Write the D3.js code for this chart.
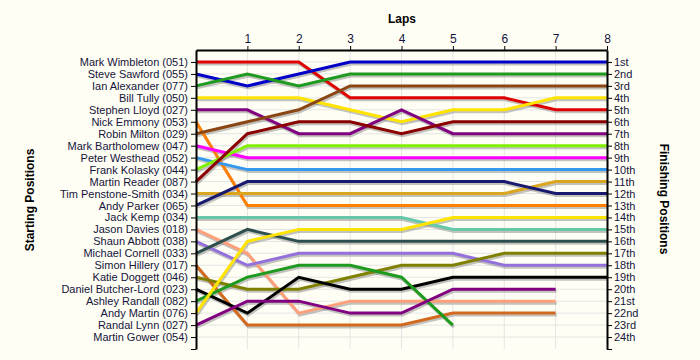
<!DOCTYPE html>
<html>
<head>
<meta charset="utf-8">
<script src="https://cdn.jsdelivr.net/npm/d3@7"></script>
<style>
  body { margin: 0; background: #fffef4; }
  svg { display: block; font-family: "Liberation Sans", Arial, sans-serif; }
  .tick text { fill: #14143c; font-size: 11px; }
  .top .tick text { font-size: 12px; }
  .tick line { stroke: #000; }
  .domain { stroke: #000; stroke-width: 2px; }
</style>
</head>
<body>
<script>
// starting grid order (position 1..24)
const drivers = [
  "Mark Wimbleton (051)", "Steve Sawford (055)", "Ian Alexander (077)", "Bill Tully (050)",
  "Stephen Lloyd (027)", "Nick Emmony (053)", "Robin Milton (029)", "Mark Bartholomew (047)",
  "Peter Westhead (052)", "Frank Kolasky (044)", "Martin Reader (087)", "Tim Penstone-Smith (034)",
  "Andy Parker (065)", "Jack Kemp (034)", "Jason Davies (018)", "Shaun Abbott (038)",
  "Michael Cornell (033)", "Simon Hillery (017)", "Katie Doggett (046)", "Daniel Butcher-Lord (023)",
  "Ashley Randall (082)", "Andy Martin (076)", "Randal Lynn (027)", "Martin Gower (054)"
];

const colours = [
  "#e00000", "#0000c8", "#1e9a1e", "#ffe400", "#800080", "#ff7f00", "#8b4513", "#ff00ff",
  "#3399ee", "#80f000", "#8b0000", "#daa520", "#191970", "#66c8a8", "#ffa07a", "#9370db",
  "#2f4f4f", "#d2691e", "#808000", "#000000", "#1e9a1e", "#ffe400", "#800080", "#999999"
];

// position at the end of each lap (index 0 = start)
const positions = [
  [1, 1, 1, 4, 4, 4, 4, 5, 5],
  [2, 3, 2, 1, 1, 1, 1, 1, 1],
  [3, 2, 3, 2, 2, 2, 2, 2, 2],
  [4, 4, 4, 5, 6, 5, 5, 4, 4],
  [5, 5, 7, 7, 5, 7, 7, 7, 7],
  [6, 13, 13, 13, 13, 13, 13, 13, 13],
  [7, 6, 5, 3, 3, 3, 3, 3, 3],
  [8, 9, 9, 9, 9, 9, 9, 9, 9],
  [9, 10, 10, 10, 10, 10, 10, 10, 10],
  [10, 8, 8, 8, 8, 8, 8, 8, 8],
  [11, 7, 6, 6, 7, 6, 6, 6, 6],
  [12, 12, 12, 12, 12, 12, 12, 11, 11],
  [13, 11, 11, 11, 11, 11, 11, 12, 12],
  [14, 14, 14, 14, 14, 15, 15, 15, 15],
  [15, 17, 22, 21, 21, 21, 21, 21],
  [16, 18, 17, 17, 17, 17, 18, 18, 18],
  [17, 15, 16, 16, 16, 16, 16, 16, 16],
  [18, 23, 23, 23, 23, 22, 22, 22],
  [19, 20, 20, 19, 18, 18, 17, 17, 17],
  [20, 22, 19, 20, 20, 19, 19, 19, 19],
  [21, 19, 18, 18, 19, 23],
  [22, 16, 15, 15, 15, 14, 14, 14, 14],
  [23, 21, 21, 22, 22, 20, 20, 20],
  []
];

const lapTicks = [1, 2, 3, 4, 5, 6, 7, 8];
const finishLabels = ["1st", "2nd", "3rd", "4th", "5th", "6th", "7th", "8th", "9th", "10th",
  "11th", "12th", "13th", "14th", "15th", "16th", "17th", "18th", "19th", "20th",
  "21st", "22nd", "23rd", "24th"];

const w = 700, h = 360;
const svg = d3.select("body").append("svg").attr("width", w).attr("height", h);

const x = d3.scaleLinear().domain([0, 8]).range([196, 607]);
const y = d3.scaleLinear().domain([0, 25]).range([50, 349]);
const rows = d3.range(1, 26);

// grid
svg.append("g").selectAll("line").data(d3.range(1, 25)).enter().append("line")
  .attr("x1", x(0)).attr("x2", x(8))
  .attr("y1", d => y(d)).attr("y2", d => y(d))
  .attr("stroke", "#e4e4e4");
svg.append("g").selectAll("line").data(d3.range(1, 8)).enter().append("line")
  .attr("x1", d => x(d)).attr("x2", d => x(d))
  .attr("y1", y(0)).attr("y2", y(25))
  .attr("stroke", "#e4e4e4");

const line = d3.line().x((d, i) => x(i)).y(d => y(d));
const series = positions.map((p, i) => ({ p, c: colours[i] })).filter(s => s.p.length > 1);

// shadows first, then the coloured lines
svg.append("g").attr("transform", "translate(1,2)")
  .selectAll("path").data(series).enter().append("path")
  .attr("d", d => line(d.p))
  .attr("fill", "none").attr("stroke", "#888").attr("stroke-opacity", 0.5)
  .attr("stroke-width", 3);

svg.append("g").selectAll("path").data(series).enter().append("path")
  .attr("d", d => line(d.p))
  .attr("fill", "none").attr("stroke", d => d.c)
  .attr("stroke-width", 3).attr("stroke-linejoin", "miter");

// axes
svg.append("g").attr("transform", `translate(${x(0)},0)`)
  .call(d3.axisLeft(y).tickValues(rows).tickSizeInner(5).tickSizeOuter(0).tickPadding(3)
    .tickFormat(d => drivers[d - 1] || ""));

svg.append("g").attr("transform", `translate(${x(8)},0)`)
  .call(d3.axisRight(y).tickValues(rows).tickSizeInner(5).tickSizeOuter(0).tickPadding(2)
    .tickFormat(d => finishLabels[d - 1] || ""));

svg.append("g").attr("class", "top").attr("transform", `translate(0,${y(0)})`)
  .call(d3.axisTop(x).tickValues(lapTicks).tickSizeInner(4).tickSizeOuter(0).tickPadding(3));

svg.selectAll(".tick text").attr("font-family", null).attr("font-size", null);

// titles
svg.append("text").attr("x", 402).attr("y", 23).attr("text-anchor", "middle")
  .attr("font-size", 12).attr("font-weight", "bold").text("Laps");
svg.append("text").attr("transform", "translate(34,200) rotate(-90)").attr("text-anchor", "middle")
  .attr("font-size", 12).attr("font-weight", "bold").text("Starting Positions");
svg.append("text").attr("transform", "translate(660,199) rotate(90)").attr("text-anchor", "middle")
  .attr("font-size", 12).attr("font-weight", "bold").text("Finishing Positions");
</script>
</body>
</html>
